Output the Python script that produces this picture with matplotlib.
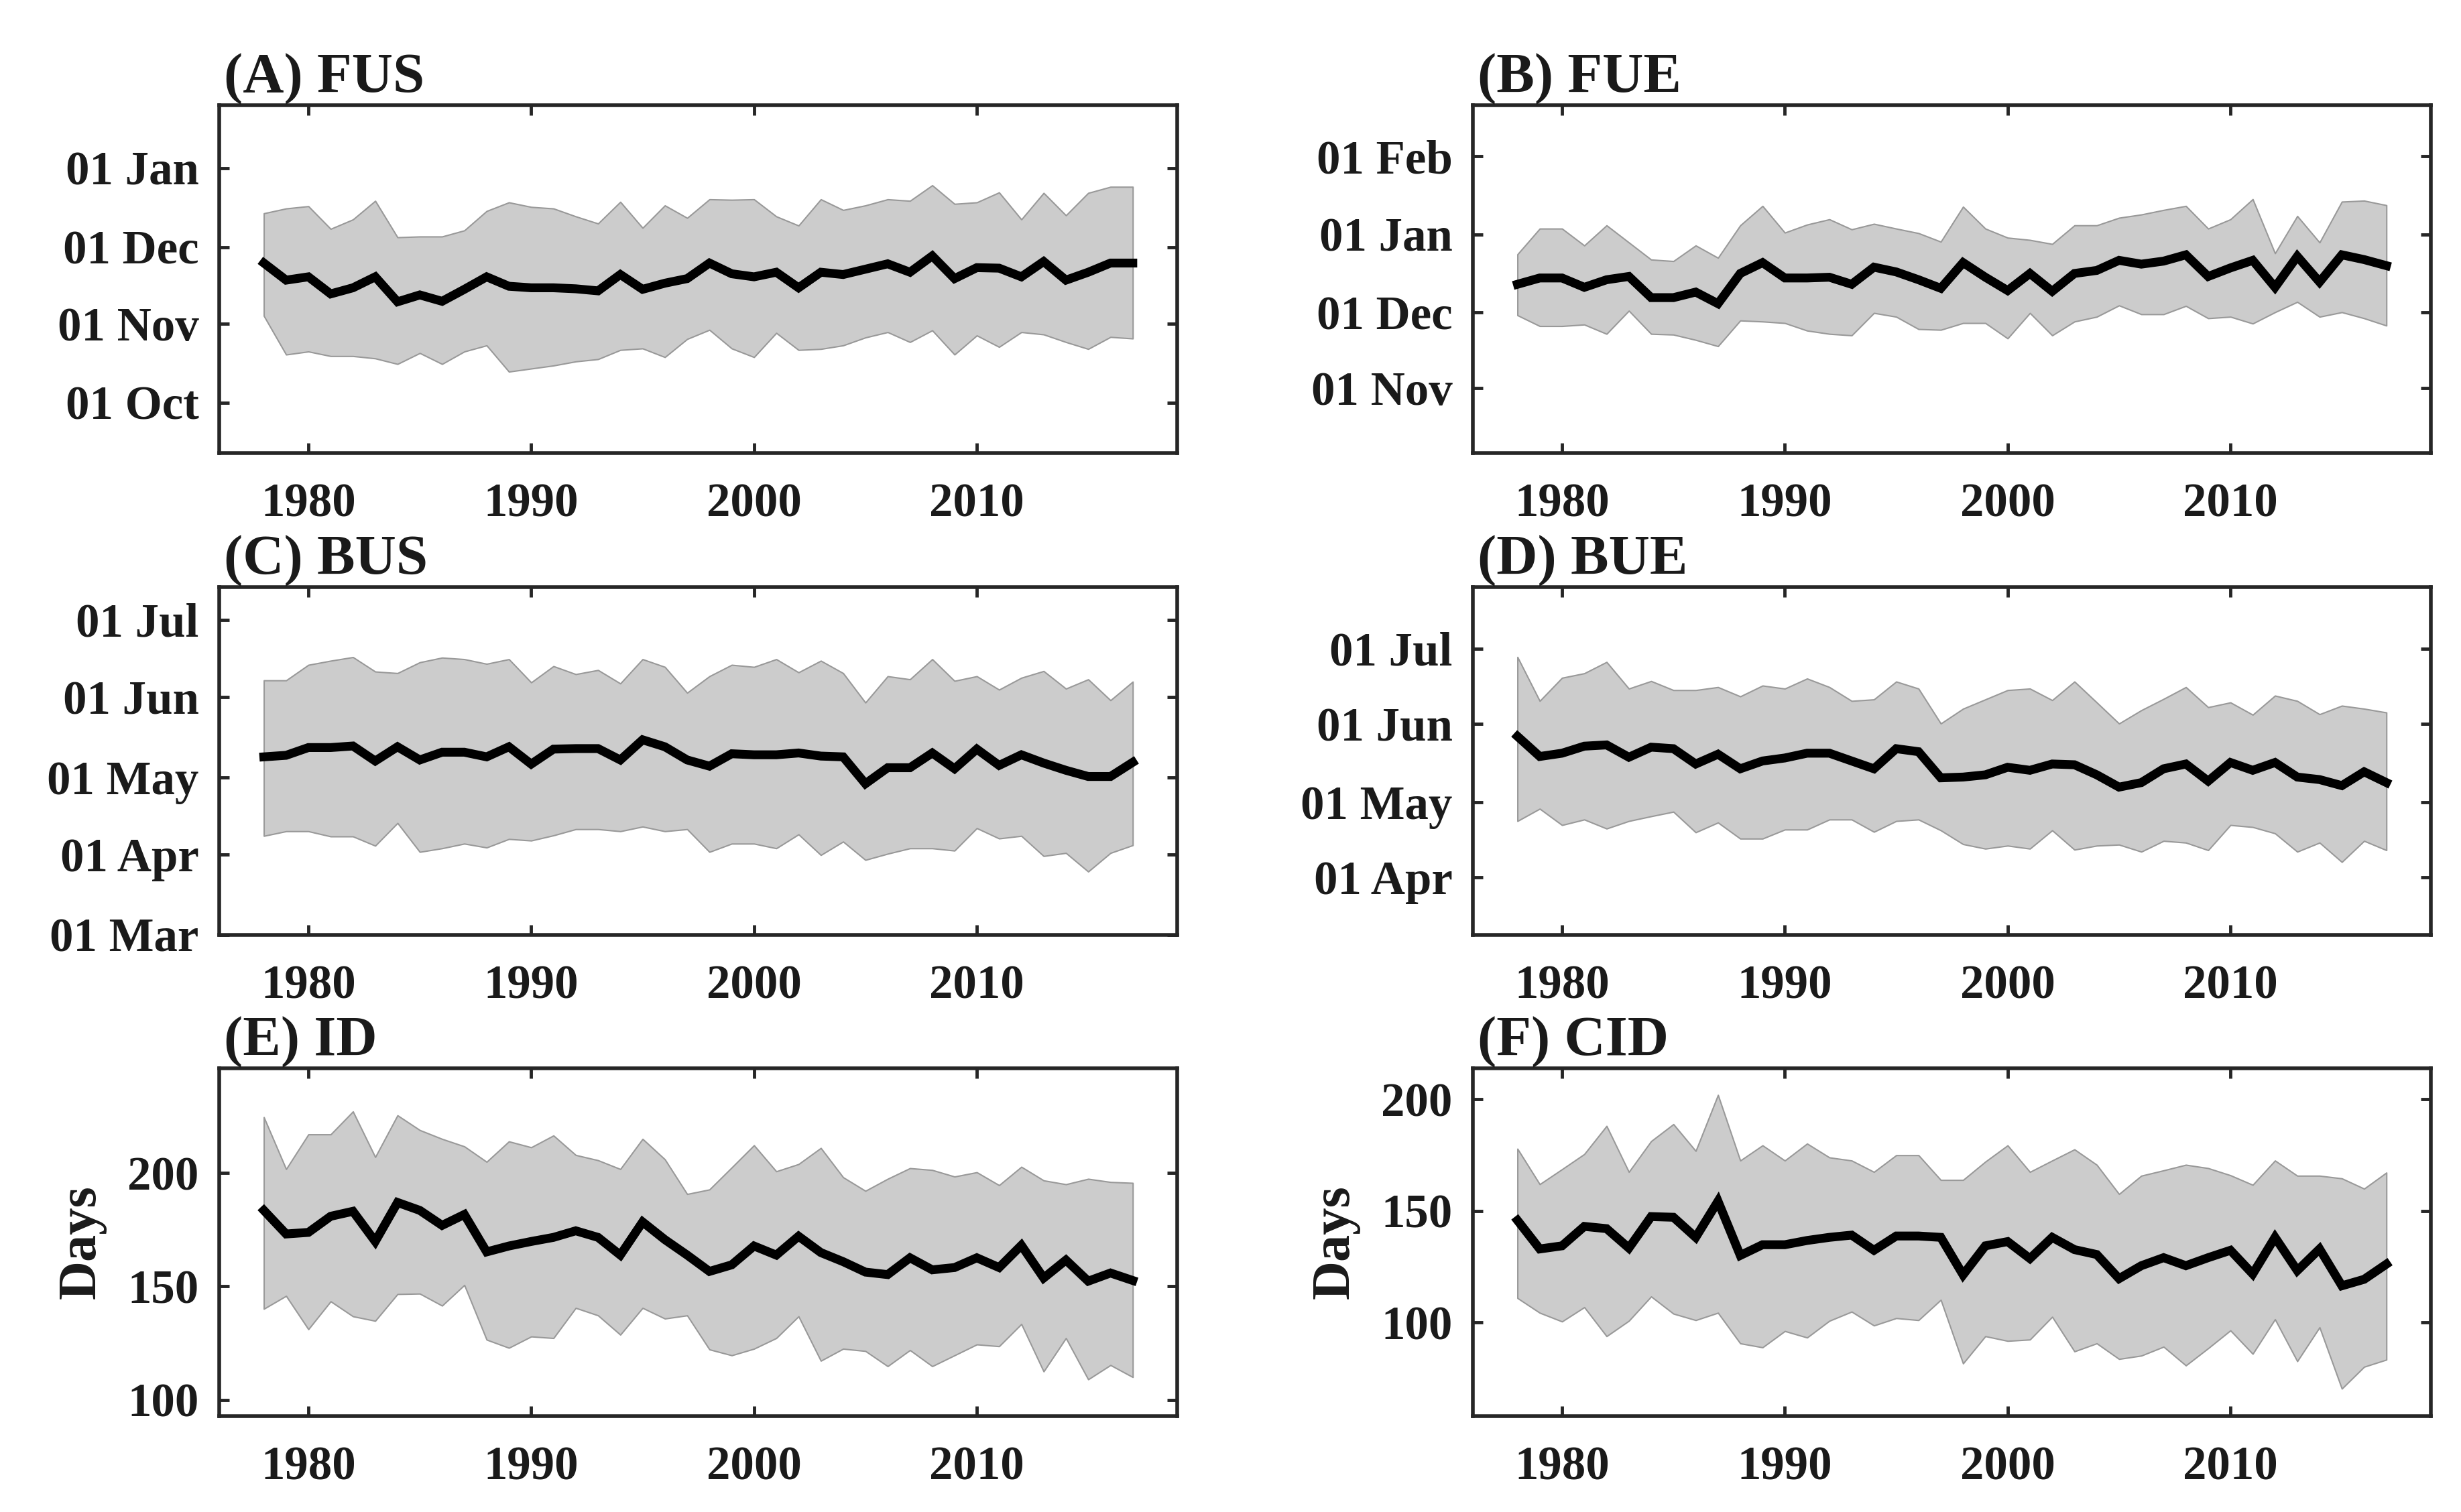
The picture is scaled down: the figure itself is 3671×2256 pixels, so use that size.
import matplotlib
matplotlib.use("Agg")
import matplotlib.pyplot as plt
import numpy as np

# Anos (1978-2017)
YEARS = np.arange(1978, 2018)

# Datas em dia do ano (1 Jan = 1; valores > 365 caem no ano seguinte)
FUS_MEAN = [328.8, 322.1, 323.4, 316.7, 319.1, 323.4, 313.6, 316.3, 313.8, 318.5,
            323.4, 319.7, 319.1, 319.1, 318.7, 317.9, 324.3, 318.5, 320.9, 322.7,
            328.8, 324.6, 323.4, 325.2, 319.1, 325.2, 324.3, 326.4, 328.5, 325.2,
            331.6, 322.7, 327.0, 326.8, 323.4, 329.4, 322.1, 325.2, 328.8, 328.8]
FUS_UP = [348.3, 350.2, 351.1, 342.2, 345.9, 353.2, 338.9, 339.2, 339.2, 341.6,
          349.2, 352.6, 350.8, 350.2, 347.1, 344.3, 352.8, 342.6, 351.4, 346.5,
          353.8, 353.6, 353.8, 347.1, 343.5, 353.8, 349.6, 351.4, 353.8, 353.2,
          359.3, 352.0, 352.6, 356.5, 345.9, 356.3, 347.5, 356.3, 358.7, 358.7]
FUS_LO = [308.1, 292.9, 294.1, 292.3, 292.3, 291.4, 289.2, 293.5, 289.2, 294.1,
          296.5, 286.2, 287.4, 288.6, 290.2, 291.1, 294.7, 295.3, 291.9, 299.0,
          302.6, 295.3, 291.9, 301.4, 294.7, 295.1, 296.5, 299.6, 301.7, 297.8,
          302.4, 292.9, 300.4, 295.9, 301.7, 300.8, 297.8, 295.1, 299.8, 299.2]

FUE_MEAN = [346.2, 348.7, 348.7, 345.0, 348.0, 349.3, 340.9, 340.9, 343.1, 338.5,
            350.5, 354.8, 348.7, 348.7, 349.0, 346.2, 353.0, 351.1, 348.0, 344.6,
            354.8, 349.0, 343.7, 350.5, 343.4, 350.5, 351.7, 355.7, 354.2, 355.4,
            357.9, 349.3, 352.7, 355.7, 345.0, 357.3, 347.1, 357.9, 356.0, 353.6]
FUE_UP = [358.1, 368.3, 368.3, 361.6, 369.6, 362.8, 356.0, 355.4, 361.6, 356.7,
          369.6, 377.3, 366.7, 369.9, 372.0, 368.0, 370.2, 368.3, 366.5, 363.1,
          377.0, 368.3, 364.7, 363.8, 362.2, 369.6, 369.6, 372.6, 373.9, 375.7,
          377.3, 368.3, 372.0, 380.0, 358.5, 373.3, 362.8, 379.0, 379.4, 377.6]
FUE_LO = [333.9, 329.6, 329.6, 330.2, 326.5, 335.7, 326.5, 326.2, 324.1, 321.6,
          331.8, 331.4, 330.8, 327.8, 326.5, 325.9, 334.8, 333.3, 328.4, 328.1,
          330.8, 330.8, 324.7, 334.8, 325.9, 331.4, 333.3, 337.8, 334.3, 334.3,
          337.6, 332.7, 333.3, 330.6, 335.1, 339.2, 333.3, 335.1, 332.7, 329.8]

BUS_MEAN = [128.9, 129.5, 132.5, 132.5, 133.1, 127.3, 132.8, 127.7, 130.7, 130.7,
            128.9, 132.8, 126.1, 131.9, 132.1, 132.1, 127.7, 135.5, 132.8, 127.7,
            125.3, 130.1, 129.7, 129.7, 130.4, 129.2, 128.9, 118.5, 124.7, 124.7,
            130.4, 124.3, 131.9, 125.6, 129.7, 126.5, 123.7, 121.3, 121.3, 126.8]
BUS_UP = [158.5, 158.5, 164.5, 166.1, 167.5, 161.9, 161.3, 165.5, 167.3, 166.7,
          164.9, 166.7, 157.7, 164.0, 160.9, 162.5, 157.3, 166.7, 163.7, 153.7,
          160.1, 164.5, 163.7, 166.7, 161.6, 166.1, 161.3, 149.9, 160.1, 158.9,
          166.7, 158.3, 160.1, 154.9, 159.5, 162.1, 155.3, 158.9, 150.8, 158.0]
BUS_LO = [98.3, 100.1, 100.1, 98.1, 98.1, 94.5, 103.3, 92.1, 93.5, 95.3,
          93.8, 97.1, 96.5, 98.5, 100.9, 100.9, 100.1, 101.9, 100.1, 100.9,
          92.1, 95.3, 95.3, 93.5, 98.9, 90.9, 96.1, 89.0, 91.4, 93.5,
          93.5, 92.6, 101.3, 97.3, 98.3, 90.5, 91.7, 84.5, 91.7, 94.7]

BUE_MEAN = [147.1, 139.1, 140.4, 143.2, 143.7, 138.8, 142.8, 142.2, 136.1, 140.0,
            134.2, 137.3, 138.5, 140.4, 140.4, 137.3, 134.2, 142.2, 141.0, 130.6,
            130.9, 131.8, 134.8, 133.6, 136.1, 135.8, 131.8, 126.9, 128.7, 134.2,
            136.1, 129.3, 136.7, 133.6, 136.7, 130.9, 129.9, 127.5, 133.0, 128.7]
BUE_UP = [178.7, 161.2, 170.4, 172.2, 176.7, 166.1, 169.1, 165.5, 165.5, 166.7,
          163.0, 167.3, 166.1, 170.1, 166.7, 161.2, 161.8, 168.9, 166.1, 152.2,
          158.1, 161.8, 165.5, 166.1, 161.5, 168.9, 160.6, 152.2, 157.5, 162.0,
          166.7, 158.7, 160.6, 155.7, 163.3, 161.2, 155.9, 159.3, 158.1, 156.6]
BUE_LO = [113.4, 118.3, 111.8, 114.0, 110.4, 113.4, 115.3, 117.1, 108.9, 112.8,
          106.4, 106.4, 110.0, 110.0, 114.0, 114.0, 109.1, 113.4, 114.0, 109.7,
          104.2, 102.4, 103.6, 102.4, 109.7, 102.0, 103.6, 104.0, 101.2, 105.5,
          104.8, 101.8, 111.8, 111.0, 108.5, 101.2, 104.8, 97.1, 105.5, 101.8]

# Duracoes em dias
ID_MEAN = [183.5, 173.1, 173.8, 180.9, 183.1, 169.8, 187.0, 183.5, 176.9, 181.7,
           165.2, 167.8, 169.8, 171.6, 174.5, 171.6, 163.8, 178.4, 170.6, 163.8,
           156.6, 159.5, 167.8, 163.8, 172.1, 164.9, 160.9, 156.3, 155.2, 162.6,
           157.3, 158.3, 162.6, 158.3, 168.1, 153.7, 161.6, 152.3, 155.9, 152.6]
ID_UP = [224.6, 201.7, 217.0, 217.0, 227.1, 207.0, 225.4, 218.9, 215.0, 211.7,
         204.9, 213.9, 211.3, 216.5, 207.9, 205.6, 201.7, 215.0, 206.0, 190.7,
         192.7, 202.4, 212.2, 200.7, 203.9, 211.0, 198.1, 192.1, 197.4, 202.1,
         201.3, 198.4, 200.3, 194.6, 202.7, 196.7, 195.0, 197.4, 196.0, 195.6]
ID_LO = [140.1, 145.8, 131.1, 143.4, 136.8, 134.8, 146.6, 146.8, 141.5, 150.6,
         126.5, 122.9, 127.9, 127.2, 140.5, 137.2, 128.7, 140.5, 135.8, 137.2,
         122.2, 119.6, 122.5, 127.2, 136.8, 117.2, 122.5, 121.5, 114.8, 121.9,
         114.8, 119.6, 124.4, 123.6, 133.4, 112.5, 127.2, 109.0, 115.3, 110.0]

CID_MEAN = [145.7, 132.9, 134.3, 143.0, 142.0, 133.3, 147.4, 147.1, 138.1, 154.3,
            130.0, 134.8, 134.8, 136.7, 138.1, 139.1, 132.3, 138.7, 138.7, 138.1,
            121.3, 134.3, 136.2, 128.6, 138.1, 132.6, 130.4, 119.6, 125.4, 129.0,
            125.4, 129.0, 132.3, 121.7, 138.1, 123.2, 132.9, 116.4, 119.3, 126.1]
CID_UP = [177.8, 161.9, 168.6, 175.4, 188.0, 167.4, 181.2, 188.8, 176.8, 201.9,
          172.5, 179.3, 172.5, 180.1, 173.9, 172.5, 167.4, 174.9, 174.9, 163.8,
          163.8, 172.0, 179.3, 167.4, 172.5, 177.5, 170.6, 157.5, 165.7, 168.1,
          170.6, 169.1, 165.9, 161.6, 172.5, 165.7, 165.7, 164.5, 159.9, 167.1]
CID_LO = [110.9, 104.3, 100.4, 106.8, 93.8, 100.7, 111.6, 103.9, 101.0, 104.3,
          90.6, 88.8, 96.1, 93.2, 100.7, 104.8, 98.6, 101.9, 101.0, 110.1,
          81.6, 93.8, 91.7, 92.3, 102.5, 87.0, 90.6, 83.6, 85.1, 89.1,
          80.7, 88.4, 96.4, 85.9, 101.4, 82.6, 97.8, 70.3, 80.1, 83.3]

TITLES = ["(A) FUS", "(B) FUE", "(C) BUS", "(D) BUE", "(E) ID", "(F) CID"]
X_TICKS = [1980, 1990, 2000, 2010]

YTICKS = [
    ([274, 305, 335, 366], ["01 Oct", "01 Nov", "01 Dec", "01 Jan"]),
    ([305, 335, 366, 397], ["01 Nov", "01 Dec", "01 Jan", "01 Feb"]),
    ([60, 91, 121, 152, 182], ["01 Mar", "01 Apr", "01 May", "01 Jun", "01 Jul"]),
    ([91, 121, 152, 182], ["01 Apr", "01 May", "01 Jun", "01 Jul"]),
    ([100, 150, 200], ["100", "150", "200"]),
    ([100, 150, 200], ["100", "150", "200"]),
]
YLIMS = [(254.3, 390.7), (279.2, 417.3), (60.0, 194.6),
         (68.1, 206.5), (92.8, 246.1), (58.0, 213.8)]

STYLE = {
    "fill": "#cccccc",
    "fill_edge": "#999999",
    "line": "black",
    "text": "#1a1a1a",
    "spine": "#262626",
    "font": ["Liberation Serif", "DejaVu Serif"],
}

plt.rcParams["font.family"] = STYLE["font"]
plt.rcParams["font.weight"] = "bold"

fig = plt.figure(figsize=(36.71, 22.56), dpi=100)

lefts = [0.0891, 0.5985]
bottoms = [0.7004, 0.3817, 0.0634]
w, h = 0.3893, 0.2300

series = [
    (FUS_MEAN, FUS_UP, FUS_LO), (FUE_MEAN, FUE_UP, FUE_LO),
    (BUS_MEAN, BUS_UP, BUS_LO), (BUE_MEAN, BUE_UP, BUE_LO),
    (ID_MEAN, ID_UP, ID_LO), (CID_MEAN, CID_UP, CID_LO),
]

for k, (mean, up, lo) in enumerate(series):
    ax = fig.add_axes([lefts[k % 2], bottoms[k // 2], w, h])
    ax.fill_between(YEARS, lo, up, facecolor=STYLE["fill"],
                    edgecolor=STYLE["fill_edge"], linewidth=1.5)
    ax.plot(YEARS, mean, color=STYLE["line"], linewidth=9.5,
            solid_joinstyle="miter")

    ax.set_xlim(1976, 2019)
    ax.set_ylim(*YLIMS[k])
    ax.set_xticks(X_TICKS)
    ticks, labels = YTICKS[k]
    ax.set_yticks(ticks)
    ax.set_yticklabels(labels)

    ax.tick_params(axis="both", direction="in", length=11, width=3.5,
                   colors=STYLE["spine"], labelcolor=STYLE["text"],
                   labelsize=51, top=True, right=True)
    ax.tick_params(axis="x", pad=32)
    ax.tick_params(axis="y", pad=22)
    for sp in ax.spines.values():
        sp.set_linewidth(4)
        sp.set_color(STYLE["spine"])

    ax.set_title(TITLES[k], loc="left", fontsize=61, fontweight="bold",
                 color=STYLE["text"], pad=14, x=0.005)
    if k >= 4:
        ax.set_ylabel("Days", fontsize=58, fontweight="bold",
                      color=STYLE["text"])
        ax.yaxis.set_label_coords(-0.118, 0.5)

fig.savefig("out.png", dpi=100)
